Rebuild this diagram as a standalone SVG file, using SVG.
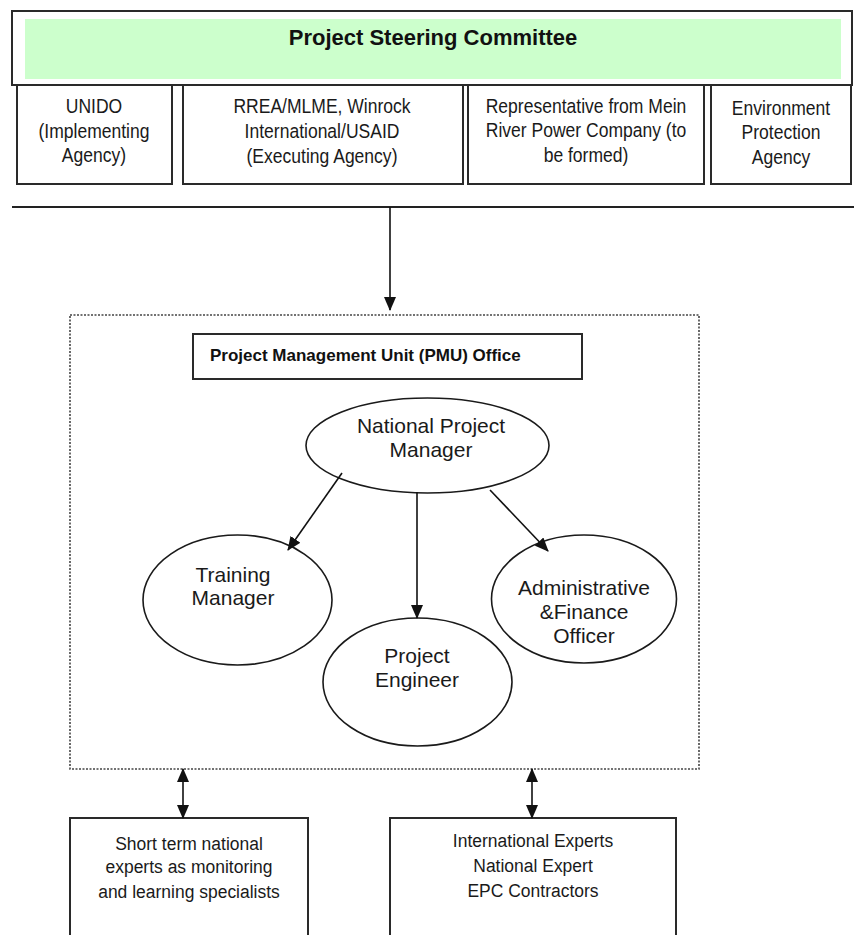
<svg xmlns="http://www.w3.org/2000/svg" width="854" height="935" viewBox="0 0 854 935">
<defs>
<marker id="ah" markerWidth="14" markerHeight="12" refX="13" refY="6" orient="auto-start-reverse" markerUnits="userSpaceOnUse">
<path d="M0,0 L14,6 L0,12 Z" fill="#111"/>
</marker>
<style>
.box{fill:#fff;stroke:#2a2a2a;stroke-width:2}
.ell{fill:#fff;stroke:#1a1a1a;stroke-width:1.6}
.t{font-family:"Liberation Sans",Arial,sans-serif;font-size:20.5px;fill:#1a1a1a;text-anchor:middle}
.tbt{font-family:"Liberation Sans",Arial,sans-serif;font-size:19px;fill:#1a1a1a;text-anchor:middle}
.te{font-family:"Liberation Sans",Arial,sans-serif;font-size:21px;fill:#1a1a1a;text-anchor:middle}
.tb{font-family:"Liberation Sans",Arial,sans-serif;font-weight:bold;fill:#111}
.ln{stroke:#111;stroke-width:1.6;fill:none}
</style>
</defs>
<rect width="854" height="935" fill="#fff"/>

<g id="steering">
<rect class="box" x="12" y="11" width="840" height="74"/>
<rect x="25" y="19" width="816" height="60" fill="#ccffcc"/>
<text class="tb" x="433" y="45" font-size="22" text-anchor="middle">Project Steering Committee</text>
</g>
<g id="unido">
<rect class="box" x="17" y="85" width="155" height="99"/>
<g transform="translate(94 0) scale(0.855 1)">
<text class="t" x="0" y="113">UNIDO</text>
<text class="t" x="0" y="138">(Implementing</text>
<text class="t" x="0" y="162">Agency)</text>
</g>
</g>
<g id="rrea">
<rect class="box" x="183" y="85" width="280" height="99"/>
<g transform="translate(322 0) scale(0.855 1)">
<text class="t" x="0" y="113">RREA/MLME, Winrock</text>
<text class="t" x="0" y="138">International/USAID</text>
<text class="t" x="0" y="163">(Executing Agency)</text>
</g>
</g>
<g id="rep">
<rect class="box" x="468" y="85" width="236" height="99"/>
<g transform="translate(586 0) scale(0.855 1)">
<text class="t" x="0" y="113">Representative from Mein</text>
<text class="t" x="0" y="137">River Power Company (to</text>
<text class="t" x="0" y="162">be formed)</text>
</g>
</g>
<g id="epa">
<rect class="box" x="711" y="85" width="140" height="99"/>
<g transform="translate(781 0) scale(0.855 1)">
<text class="t" x="0" y="115">Environment</text>
<text class="t" x="0" y="139">Protection</text>
<text class="t" x="0" y="164">Agency</text>
</g>
</g>
<g id="divider">
<line x1="12" y1="207" x2="854" y2="207" stroke="#222" stroke-width="2"/>
</g>

<g id="pmu-frame">
<rect x="70" y="315" width="629" height="454" fill="none" stroke="#444" stroke-width="1.6" stroke-dasharray="2,1.5"/>
</g>
<g id="pmu">
<rect class="box" x="193" y="334" width="389" height="45"/>
<text class="tb" x="210" y="361" font-size="17">Project Management Unit (PMU) Office</text>
</g>
<g id="npm">
<ellipse class="ell" cx="427.5" cy="445.5" rx="121.5" ry="47.5"/>
<text class="te" x="431" y="433">National Project</text>
<text class="te" x="431" y="457">Manager</text>
</g>
<g id="training">
<ellipse class="ell" cx="237.5" cy="600" rx="94.5" ry="65"/>
<text class="te" x="233" y="582">Training</text>
<text class="te" x="233" y="605">Manager</text>
</g>
<g id="engineer">
<ellipse class="ell" cx="417.5" cy="682" rx="94.5" ry="64"/>
<text class="te" x="417" y="663">Project</text>
<text class="te" x="417" y="687">Engineer</text>
</g>
<g id="admin">
<ellipse class="ell" cx="584" cy="599" rx="92.5" ry="64"/>
<text class="te" x="584" y="595">Administrative</text>
<text class="te" x="584" y="619">&amp;Finance</text>
<text class="te" x="584" y="643">Officer</text>
</g>
<g id="shortterm">
<rect class="box" x="70" y="818" width="238" height="130"/>
<g transform="translate(189 0) scale(0.92 1)">
<text class="tbt" x="0" y="850">Short term national</text>
<text class="tbt" x="0" y="873">experts as monitoring</text>
<text class="tbt" x="0" y="898">and learning specialists</text>
</g>
</g>
<g id="intl">
<rect class="box" x="390" y="818" width="286" height="130"/>
<g transform="translate(533 0) scale(0.92 1)">
<text class="tbt" x="0" y="847">International Experts</text>
<text class="tbt" x="0" y="872">National Expert</text>
<text class="tbt" x="0" y="897">EPC Contractors</text>
</g>
</g>

<g id="connectors">
<line class="ln" x1="390" y1="207" x2="390" y2="310" marker-end="url(#ah)"/>
<line class="ln" x1="342" y1="473" x2="288" y2="550" marker-end="url(#ah)"/>
<line class="ln" x1="417" y1="492" x2="417" y2="618" marker-end="url(#ah)"/>
<line class="ln" x1="490" y1="490" x2="548" y2="551" marker-end="url(#ah)"/>
<line class="ln" x1="183" y1="769" x2="183" y2="818" marker-start="url(#ah)" marker-end="url(#ah)"/>
<line class="ln" x1="532" y1="769" x2="532" y2="818" marker-start="url(#ah)" marker-end="url(#ah)"/>
</g>
</svg>
